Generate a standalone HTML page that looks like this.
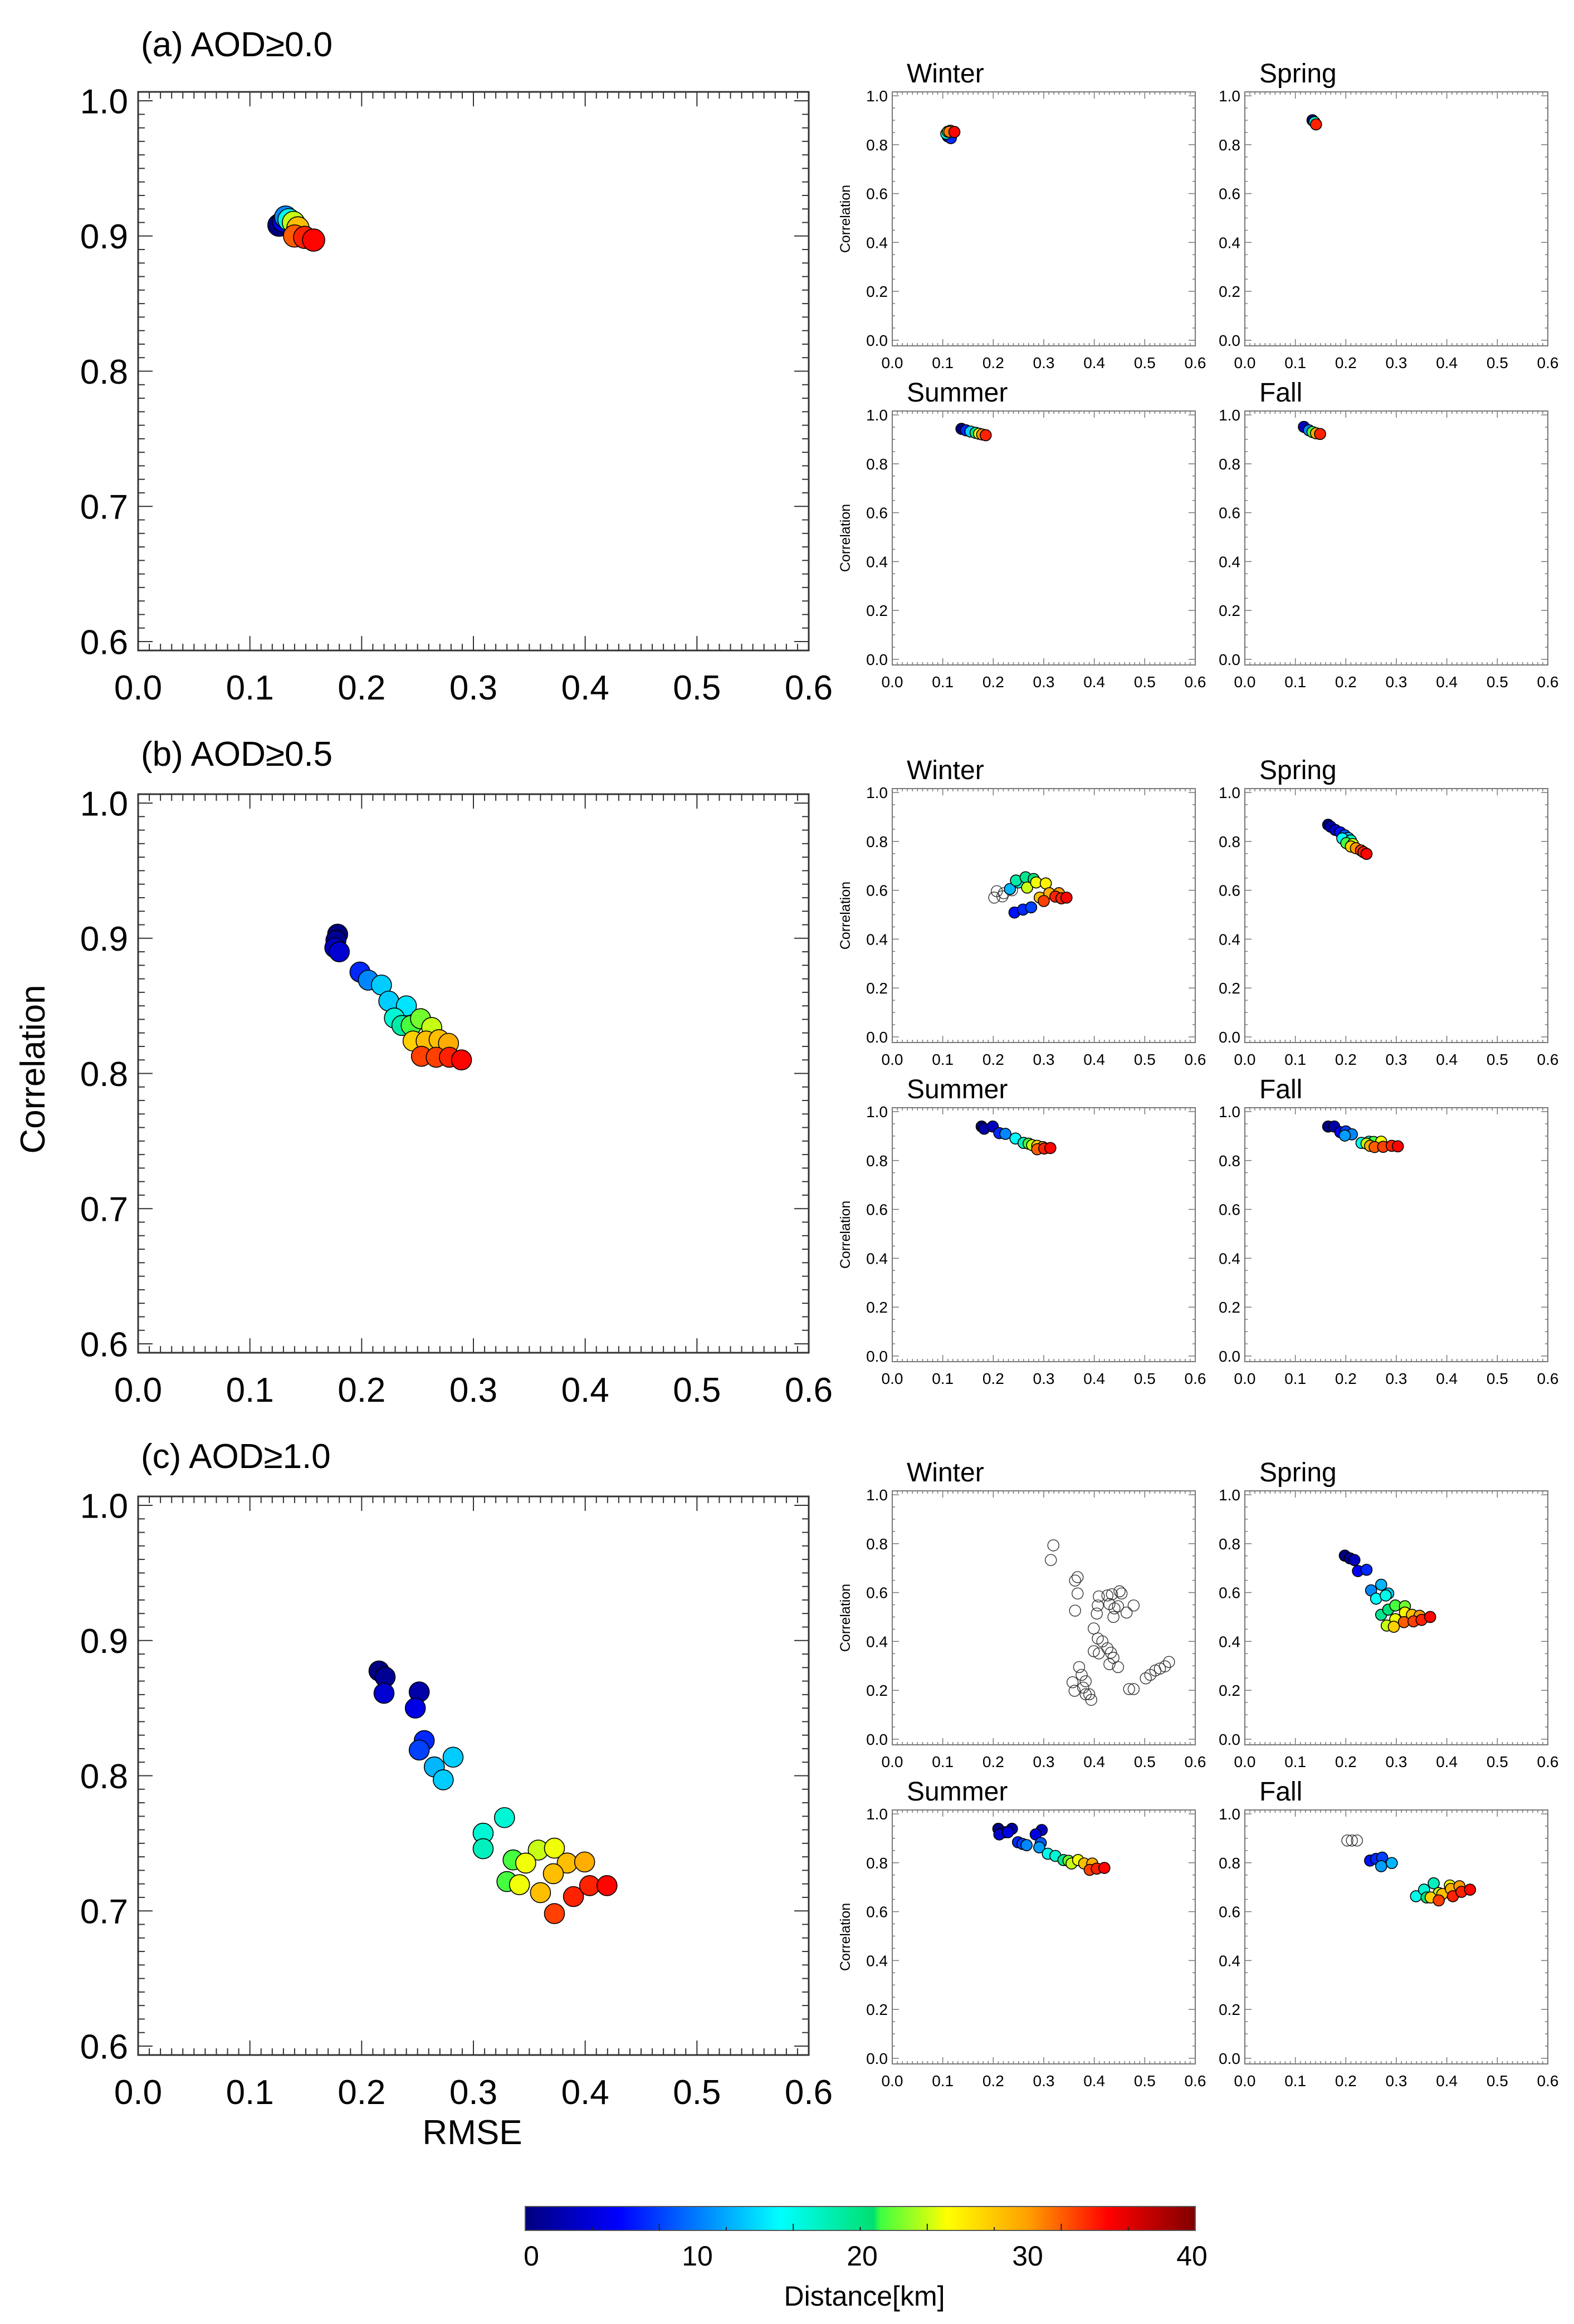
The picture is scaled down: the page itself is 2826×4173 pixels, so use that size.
<!DOCTYPE html>
<html><head><meta charset="utf-8"><style>
html,body{margin:0;padding:0;background:#fff;}
svg{display:block;font-family:"Liberation Sans",Arial,sans-serif;}
</style></head><body>
<svg id="fig" width="2826" height="4173" viewBox="0 0 2826 4173" xmlns="http://www.w3.org/2000/svg">
<defs>
<linearGradient id="jet" x1="0" x2="1" y1="0" y2="0">
<stop offset="0" stop-color="#00007f"/><stop offset="0.14" stop-color="#0000ff"/><stop offset="0.38" stop-color="#00ffff"/><stop offset="0.52" stop-color="#00e070"/><stop offset="0.53" stop-color="#40ff40"/><stop offset="0.63" stop-color="#ffff00"/><stop offset="0.75" stop-color="#ffa000"/><stop offset="0.87" stop-color="#ff0000"/><stop offset="1" stop-color="#800000"/>
</linearGradient>
</defs>
<text x="253" y="101" font-size="62">(a) AOD≥0.0</text>
<text x="253" y="1375" font-size="62">(b) AOD≥0.5</text>
<text x="253" y="2636" font-size="62">(c) AOD≥1.0</text>
<text x="0" y="0" font-size="62" text-anchor="middle" transform="translate(80,1920) rotate(-90)">Correlation</text>
<text x="848" y="3850" font-size="62" text-anchor="middle">RMSE</text>
<g>
<rect x="943" y="3962" width="1203" height="43" fill="url(#jet)" stroke="#555" stroke-width="2"/>
<g id="cbticks"></g>
<text x="954" y="4068" font-size="50" text-anchor="middle">0</text>
<text x="1252" y="4068" font-size="50" text-anchor="middle">10</text>
<text x="1548" y="4068" font-size="50" text-anchor="middle">20</text>
<text x="1845" y="4068" font-size="50" text-anchor="middle">30</text>
<text x="2140" y="4068" font-size="50" text-anchor="middle">40</text>
<text x="1552" y="4140" font-size="50" text-anchor="middle">Distance[km]</text>
</g>
</svg>
<script>
const A_MAIN_X=[0.126,0.130,0.132,0.135,0.139,0.143,0.140,0.149,0.157];
const A_MAIN_Y=[0.908,0.911,0.914,0.912,0.910,0.906,0.900,0.899,0.897];
const A_MAIN_D=[0,5,12,18,27,32,36,38,39];
const B_MAIN_X=[0.1785,0.177,0.176,0.180,0.1985,0.206,0.2177,0.2243,0.240,0.2293,0.236,0.2443,0.2527,0.2627,0.246,0.2577,0.2693,0.2777,0.2535,0.2667,0.2785,0.2893];
const B_MAIN_Y=[0.903,0.8985,0.893,0.890,0.875,0.869,0.8654,0.8535,0.850,0.841,0.8355,0.8355,0.8405,0.834,0.824,0.824,0.825,0.8223,0.8127,0.812,0.812,0.810];
const B_MAIN_D=[0,1,3,4,8,12,15,15,16,19,21,24,25,27,31,32,32,33,37,37,38,39];
const C_MAIN_X=[0.2155,0.221,0.220,0.2515,0.248,0.256,0.2515,0.265,0.2818,0.273,0.3278,0.3087,0.3087,0.3355,0.330,0.3468,0.3412,0.358,0.3725,0.3839,0.3715,0.3995,0.360,0.3725,0.3895,0.404,0.4195];
const C_MAIN_Y=[0.8775,0.873,0.861,0.862,0.850,0.826,0.819,0.8065,0.8137,0.797,0.769,0.7575,0.746,0.7377,0.7217,0.7354,0.7194,0.745,0.7464,0.7354,0.7275,0.7362,0.7135,0.698,0.7106,0.7187,0.7187];
const C_MAIN_D=[0,1,4,2,5,8,9,14,15,15,19,19,20,24,24,28,28,27,28,32,32,33,32,37,38,38,39];

const A_WIN_X=[0.110,0.116,0.107,0.110,0.115,0.113,0.123];
const A_WIN_Y=[0.834,0.827,0.845,0.853,0.857,0.853,0.852];
const A_WIN_D=[2,8,18,25,30,35,39];
const A_SPR_X=[0.134,0.138,0.141];
const A_SPR_Y=[0.900,0.892,0.883];
const A_SPR_D=[0,20,38];
const A_SUM_X=[0.137,0.146,0.155,0.165,0.172,0.178,0.185];
const A_SUM_Y=[0.943,0.937,0.932,0.927,0.923,0.920,0.917];
const A_SUM_D=[0,8,15,22,28,34,38];
const A_FAL_X=[0.117,0.127,0.134,0.141,0.149];
const A_FAL_Y=[0.951,0.937,0.930,0.925,0.922];
const A_FAL_D=[3,12,24,33,38];

const B_WIN_OPEN_X=[0.202,0.207,0.221,0.237,0.218];
const B_WIN_OPEN_Y=[0.570,0.596,0.588,0.600,0.575];
const B_WIN_X=[0.242,0.259,0.275,0.233,0.250,0.245,0.264,0.280,0.267,0.285,0.304,0.292,0.311,0.330,0.300,0.323,0.335,0.345];
const B_WIN_Y=[0.509,0.521,0.530,0.605,0.632,0.640,0.653,0.646,0.611,0.632,0.628,0.570,0.588,0.588,0.556,0.574,0.567,0.570];
const B_WIN_D=[7,8,9,14,18,21,22,23,27,28,29,32,33,34,37,38,38,39];
const B_SPR_X=[0.165,0.170,0.179,0.189,0.198,0.205,0.193,0.210,0.201,0.214,0.210,0.220,0.230,0.235,0.241];
const B_SPR_Y=[0.868,0.860,0.847,0.837,0.825,0.814,0.812,0.804,0.793,0.789,0.779,0.772,0.763,0.756,0.749];
const B_SPR_D=[0,2,4,7,10,14,17,20,24,27,31,34,37,38,39];
const B_SUM_X=[0.177,0.182,0.199,0.212,0.224,0.244,0.260,0.270,0.277,0.287,0.298,0.287,0.301,0.313];
const B_SUM_Y=[0.939,0.930,0.939,0.912,0.909,0.890,0.872,0.869,0.863,0.860,0.855,0.846,0.849,0.851];
const B_SUM_D=[0,2,3,8,12,17,20,24,27,31,33,36,38,39];
const B_FAL_X=[0.165,0.177,0.189,0.200,0.212,0.198,0.231,0.246,0.255,0.270,0.241,0.248,0.257,0.274,0.291,0.303];
const B_FAL_Y=[0.939,0.939,0.916,0.919,0.907,0.902,0.872,0.877,0.876,0.877,0.869,0.860,0.855,0.856,0.860,0.858];
const B_FAL_D=[0,2,6,9,12,13,18,21,24,28,27,33,36,37,38,39];

const C_WIN_OPEN_X=[0.319,0.314,0.367,0.362,0.367,0.362,0.409,0.407,0.405,0.426,0.435,0.450,0.454,0.430,0.440,0.447,0.438,0.464,0.478,0.399,0.407,0.416,0.399,0.409,0.426,0.433,0.438,0.447,0.430,0.370,0.375,0.357,0.383,0.361,0.378,0.390,0.383,0.394,0.469,0.478,0.502,0.511,0.521,0.530,0.540,0.548];
const C_WIN_OPEN_Y=[0.793,0.733,0.663,0.649,0.596,0.526,0.584,0.547,0.514,0.588,0.593,0.605,0.596,0.553,0.535,0.544,0.500,0.518,0.547,0.453,0.412,0.400,0.360,0.351,0.372,0.354,0.333,0.295,0.307,0.295,0.263,0.233,0.237,0.198,0.211,0.184,0.184,0.161,0.205,0.205,0.249,0.263,0.281,0.289,0.298,0.316];
const C_SPR_X=[0.198,0.208,0.217,0.224,0.241,0.250,0.270,0.284,0.260,0.279,0.270,0.284,0.298,0.317,0.281,0.298,0.317,0.295,0.331,0.346,0.315,0.334,0.350,0.367];
const C_SPR_Y=[0.751,0.740,0.733,0.688,0.693,0.609,0.632,0.596,0.575,0.588,0.509,0.530,0.547,0.544,0.465,0.491,0.518,0.460,0.509,0.505,0.479,0.482,0.488,0.500];
const C_SPR_D=[0,1,3,6,8,12,14,15,17,18,22,23,24,25,27,28,29,31,32,34,36,37,38,39];
const C_SUM_X=[0.210,0.224,0.237,0.296,0.212,0.229,0.284,0.249,0.258,0.294,0.266,0.291,0.308,0.323,0.339,0.349,0.355,0.368,0.380,0.396,0.391,0.405,0.420];
const C_SUM_Y=[0.939,0.925,0.939,0.934,0.916,0.925,0.916,0.884,0.877,0.881,0.872,0.863,0.837,0.828,0.811,0.808,0.797,0.811,0.797,0.797,0.771,0.776,0.779];
const C_SUM_D=[0,1,2,3,4,5,5,8,9,10,12,13,18,19,22,25,27,28,32,33,37,38,39];
const C_FAL_OPEN_X=[0.203,0.212,0.222];
const C_FAL_OPEN_Y=[0.891,0.891,0.891];
const C_FAL_X=[0.248,0.260,0.272,0.270,0.291,0.339,0.355,0.374,0.360,0.384,0.406,0.368,0.391,0.408,0.425,0.384,0.412,0.429,0.446];
const C_FAL_Y=[0.809,0.816,0.821,0.786,0.799,0.663,0.690,0.716,0.658,0.676,0.707,0.658,0.672,0.693,0.704,0.646,0.663,0.681,0.690];
const C_FAL_D=[7,8,9,13,14,18,19,20,23,27,28,31,32,33,34,37,38,38,39];

const MAIN_Y_TICKS=["0.6","0.7","0.8","0.9","1.0"];
const X_TICKS=["0.0","0.1","0.2","0.3","0.4","0.5","0.6"];
const SMALL_Y_TICKS=["0.0","0.2","0.4","0.6","0.8","1.0"];
const SEASONS=["Winter","Spring","Summer","Fall"];

const NS="http://www.w3.org/2000/svg";
const svg=document.getElementById('fig');
function mk(tag,attrs,parent){const e=document.createElementNS(NS,tag);for(const k in attrs)e.setAttribute(k,attrs[k]);(parent||svg).appendChild(e);return e;}

const CSTOPS=[[0,[0,0,127]],[0.14,[0,0,255]],[0.38,[0,255,255]],[0.52,[0,224,112]],[0.53,[64,255,64]],[0.63,[255,255,0]],[0.75,[255,160,0]],[0.87,[255,0,0]],[1,[128,0,0]]];
function jet(d){const t=Math.max(0,Math.min(1,d/45));for(let i=1;i<CSTOPS.length;i++){if(t<=CSTOPS[i][0]){const a=CSTOPS[i-1],b=CSTOPS[i];const f=(t-a[0])/(b[0]-a[0]);const c=a[1].map((v,j)=>Math.round(v+(b[1][j]-v)*f));return 'rgb('+c.join(',')+')';}}return 'rgb(128,0,0)';}

function panel(name,L,T,W,H,ymin,ymax,opts){
  const g=mk('g',{});
  
  
  const sx=v=>L+v/0.6*W;
  const sy=v=>T+H-(v-ymin)/(ymax-ymin)*H;
  const tg=mk('g',{stroke:opts.axisColor,'stroke-width':opts.tickW},g);
  
  
  for(let i=0;i<=60;i++){const x=sx(i/100);const len=(i%10===0)?opts.major:opts.minor;
    mk('line',{x1:x,x2:x,y1:T+H,y2:T+H-len},tg);mk('line',{x1:x,x2:x,y1:T,y2:T+len},tg);}
  const ystep=opts.yMinorStep;const n0=Math.ceil(ymin/ystep-1e-6),n1=Math.floor(ymax/ystep+1e-6);
  for(let i=n0;i<=n1;i++){const v=i*ystep;const y=sy(v);const isMaj=Math.abs(v/opts.yMajorStep-Math.round(v/opts.yMajorStep))<1e-6;const len=isMaj?opts.major:opts.minor;
    mk('line',{x1:L,x2:L+len,y1:y,y2:y},tg);mk('line',{x1:L+W,x2:L+W-len,y1:y,y2:y},tg);}
  const box=mk('rect',{x:L,y:T,width:W,height:H,fill:'none',stroke:opts.axisColor,'stroke-width':opts.boxW},g);
  
  
  opts.yLabels.forEach(s=>{const t=mk('text',{x:L-opts.yLabGap,y:sy(parseFloat(s))+opts.fs*0.36,'font-size':opts.fs,'text-anchor':'end'},g);t.textContent=s;
    
    });
  X_TICKS.forEach(s=>{const t=mk('text',{x:sx(parseFloat(s)),y:T+H+opts.xLabOff,'font-size':opts.fs,'text-anchor':'middle'},g);t.textContent=s;
    
    });
  return {g,sx,sy};
}
function drawPoints(p,xs,ys,ds,r){
  const idx=xs.map((_,i)=>i).sort((a,b)=>ds[a]-ds[b]);
  idx.forEach(i=>{const c=mk('circle',{cx:p.sx(xs[i]),cy:p.sy(ys[i]),r:r,fill:jet(ds[i]),stroke:'#000','stroke-width':1.6},p.g);
    
    });
}
function drawOpen(p,xs,ys,r){
  xs.forEach((x,i)=>{const c=mk('circle',{cx:p.sx(x),cy:p.sy(ys[i]),r:r,fill:'none',stroke:'#333','stroke-width':1.4},p.g);
    
    });
}

const mainOpts={axisColor:'#333',tickW:2,boxW:3,major:26,minor:12,yMinorStep:0.01,yMajorStep:0.1,fs:62,yLabGap:18,xLabOff:88,yLabels:MAIN_Y_TICKS};
const smallOpts={axisColor:'#777',tickW:1.5,boxW:2,major:12,minor:5,yMinorStep:0.05,yMajorStep:0.2,fs:28,yLabGap:8,xLabOff:40,yLabels:SMALL_Y_TICKS};
const rowTops=[165,1426,2687];
const smallTops=[165,1416,2677];
const MAIN_DATA=[[A_MAIN_X,A_MAIN_Y,A_MAIN_D],[B_MAIN_X,B_MAIN_Y,B_MAIN_D],[C_MAIN_X,C_MAIN_Y,C_MAIN_D]];
const SMALL_DATA=[
 [[A_WIN_X,A_WIN_Y,A_WIN_D],[A_SPR_X,A_SPR_Y,A_SPR_D],[A_SUM_X,A_SUM_Y,A_SUM_D],[A_FAL_X,A_FAL_Y,A_FAL_D]],
 [[B_WIN_X,B_WIN_Y,B_WIN_D],[B_SPR_X,B_SPR_Y,B_SPR_D],[B_SUM_X,B_SUM_Y,B_SUM_D],[B_FAL_X,B_FAL_Y,B_FAL_D]],
 [[[],[],[]],[C_SPR_X,C_SPR_Y,C_SPR_D],[C_SUM_X,C_SUM_Y,C_SUM_D],[C_FAL_X,C_FAL_Y,C_FAL_D]]];
const OPEN_DATA={'1-0':[B_WIN_OPEN_X,B_WIN_OPEN_Y],'2-0':[C_WIN_OPEN_X,C_WIN_OPEN_Y],'2-3':[C_FAL_OPEN_X,C_FAL_OPEN_Y]};
const rowNames=['a','b','c'];
for(let r=0;r<3;r++){
  const p=panel('main-plot-'+rowNames[r],248,rowTops[r],1204,1003,0.5934,1.0066,mainOpts);
  const d=MAIN_DATA[r];drawPoints(p,d[0],d[1],d[2],r===0?20:18);
  for(let s=0;s<4;s++){
    const L=(s%2===0)?1602:2235;const T=smallTops[r]+(s<2?0:573);
    const sp=panel('plot-'+rowNames[r]+'-'+SEASONS[s].toLowerCase(),L,T,544,456,-0.023,1.016,smallOpts);
    const t=mk('text',{x:L+26,y:T-17,'font-size':48},sp.g);t.textContent=SEASONS[s];
    
    
    if(s%2===0){const yl=mk('text',{x:0,y:0,'font-size':25,'text-anchor':'middle',transform:'translate('+(L-76)+','+(T+228)+') rotate(-90)'},sp.g);yl.textContent='Correlation';
      
      }
    const od=OPEN_DATA[r+'-'+s];if(od)drawOpen(sp,od[0],od[1],10);
    const sd=SMALL_DATA[r][s];drawPoints(sp,sd[0],sd[1],sd[2],10);
  }
}
const cbt=document.getElementById('cbticks');
for(let i=1;i<10;i++){const x=943+i*4/40*1203;const len=(i%2===0)?12:6;
  const l=mk('line',{x1:x,x2:x,y1:4005,y2:4005-len,stroke:'#222','stroke-width':2},cbt);
  
  }
</script>
</body></html>
